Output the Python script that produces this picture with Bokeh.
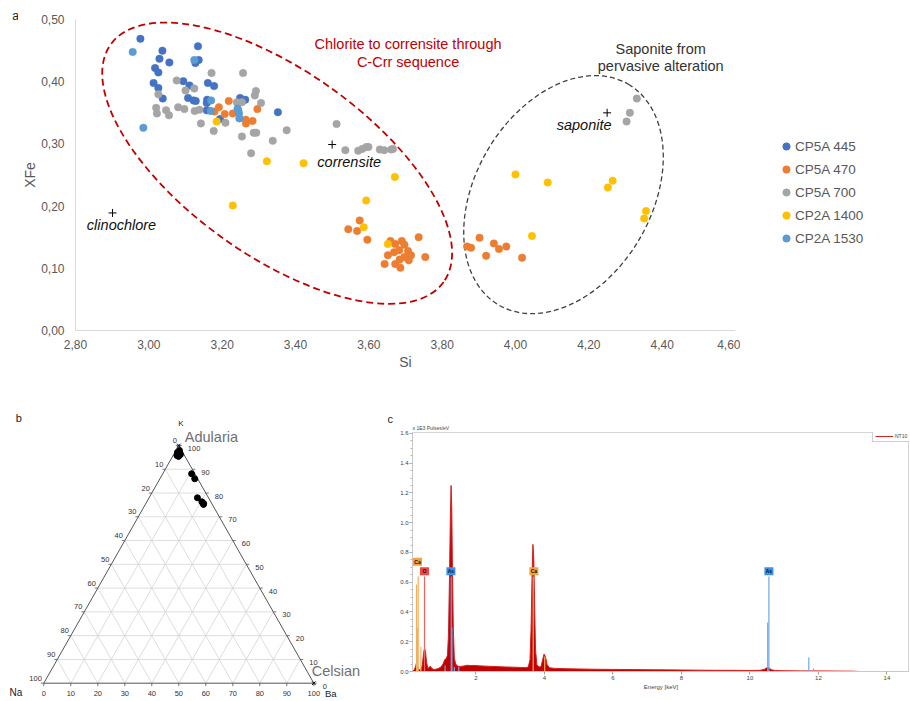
import math
from bokeh.plotting import figure
from bokeh.models import Range1d, FixedTicker, CustomJSTickFormatter, Legend, LegendItem
from bokeh.layouts import column, row
from bokeh.core.properties import value
from bokeh.embed import file_html
from bokeh.resources import INLINE

FONT = "Liberation Sans"

# ---------------- panel a data ----------------
si_ticks = [2.8, 3.0, 3.2, 3.4, 3.6, 3.8, 4.0, 4.2, 4.4, 4.6]
xfe_ticks = [0.0, 0.1, 0.2, 0.3, 0.4, 0.5]

series_names = ["CP5A 445", "CP5A 470", "CP5A 700", "CP2A 1400", "CP2A 1530"]
series_colors = ["#4472C4", "#ED7D31", "#A5A5A5", "#FFC000", "#5B9BD5"]

cp5a445_si = [2.977, 3.134, 3.037, 3.029, 3.056, 3.136, 3.127, 3.017, 3.026, 3.013, 3.094, 3.026, 3.111,
              3.161, 3.178, 3.038, 3.107, 3.122, 3.128, 3.159, 3.158, 3.249, 3.263, 3.158, 3.194, 3.352]
cp5a445_xfe = [0.469, 0.457, 0.450, 0.437, 0.431, 0.435, 0.430, 0.422, 0.415, 0.398, 0.401, 0.390, 0.394,
               0.398, 0.393, 0.373, 0.374, 0.370, 0.369, 0.371, 0.366, 0.374, 0.371, 0.354, 0.340, 0.351]

cp5a470_si = [3.218, 3.191, 3.179, 3.207, 3.229, 3.264, 3.265, 3.283, 3.296,
              3.544, 3.568, 3.575, 3.596, 3.659, 3.672, 3.690, 3.697, 3.652, 3.669, 3.683, 3.707,
              3.715, 3.697, 3.709, 3.684, 3.672, 3.643, 3.686, 3.736, 3.754,
              3.868, 3.879, 3.902, 3.920, 3.941, 3.955, 3.975, 4.018]
cp5a470_xfe = [0.369, 0.359, 0.352, 0.348, 0.349, 0.339, 0.333, 0.337, 0.356,
               0.163, 0.160, 0.177, 0.146, 0.144, 0.139, 0.144, 0.138, 0.121, 0.126, 0.129, 0.128,
               0.121, 0.118, 0.113, 0.114, 0.107, 0.107, 0.101, 0.150, 0.118,
               0.135, 0.133, 0.149, 0.120, 0.140, 0.131, 0.135, 0.117]

cp5a700_si = [3.171, 3.257, 3.076, 3.100, 3.124, 3.026, 3.020, 3.022, 3.047, 3.055, 3.080, 3.097, 3.125,
              3.138, 3.142, 3.177, 3.209, 3.240, 3.254, 3.254, 3.279, 3.289, 3.292, 3.306, 3.286, 3.293,
              3.338, 3.376, 3.512, 3.536, 3.571, 3.582, 3.593, 3.599, 3.630, 3.642, 3.661, 3.666,
              4.331, 4.312, 4.303]
cp5a700_xfe = [0.414, 0.414, 0.402, 0.386, 0.389, 0.380, 0.358, 0.349, 0.354, 0.346, 0.359, 0.356, 0.353,
               0.355, 0.333, 0.321, 0.334, 0.367, 0.367, 0.312, 0.285, 0.378, 0.385, 0.366, 0.318, 0.318,
               0.305, 0.322, 0.332, 0.290, 0.289, 0.292, 0.295, 0.295, 0.291, 0.290, 0.291, 0.292,
               0.373, 0.350, 0.336]

cp2a1400_si = [3.185, 3.322, 3.422, 3.229, 3.671, 3.593, 3.586, 3.652,
               4.000, 4.088, 4.252, 4.265, 4.356, 4.351, 4.045]
cp2a1400_xfe = [0.336, 0.272, 0.269, 0.201, 0.247, 0.209, 0.166, 0.139,
                0.251, 0.238, 0.230, 0.241, 0.192, 0.180, 0.152]

cp2a1530_si = [2.956, 2.985, 3.124, 3.170, 3.169, 3.242, 3.244, 3.246, 3.247]
cp2a1530_xfe = [0.448, 0.326, 0.435, 0.370, 0.353, 0.357, 0.354, 0.349, 0.341]

ref_names = ["clinochlore", "corrensite", "saponite"]
ref_si = [2.901, 3.500, 4.250]
ref_xfe = [0.189, 0.299, 0.350]


def bare(w, h, xr, yr):
    f = figure(width=w, height=h, x_range=xr, y_range=yr, title=None,
               min_border_left=0, min_border_right=0, min_border_top=0, min_border_bottom=0,
               frame_align=False, x_axis_location=None, y_axis_location=None,
               toolbar_location=None, output_backend="svg")
    f.grid.visible = False
    f.outline_line_color = None
    return f


# ---------------- panel letter strip for "a" ----------------
strip = bare(18, 380, Range1d(0, 18), Range1d(0, 380))
strip.text(x=[15], y=[364.3], text=["a"], text_font=value(FONT), text_font_size="12px",
           text_align="center", text_baseline="middle", text_color="#222222")

# ---------------- panel a ----------------
pa = figure(width=722, height=380, x_range=Range1d(2.8, 4.6001), y_range=Range1d(0, 0.5001), title=None,
            min_border_left=57, min_border_right=5, min_border_top=19, min_border_bottom=50,
            frame_align=False, toolbar_location=None, output_backend="svg")
pa.grid.visible = False
pa.outline_line_color = None
fmt = CustomJSTickFormatter(code="return tick.toFixed(2).replace('.', ',');")
for ax, ticks in ((pa.xaxis[0], si_ticks), (pa.yaxis[0], xfe_ticks)):
    ax.ticker = FixedTicker(ticks=ticks)
    ax.formatter = fmt
    ax.axis_line_color = "#d9d9d9"
    ax.major_tick_line_color = None
    ax.minor_tick_line_color = None
    ax.major_tick_out = 0
    ax.major_tick_in = 0
    ax.minor_tick_out = 0
    ax.minor_tick_in = 0
    ax.major_label_text_font = FONT
    ax.major_label_text_font_size = "12px"
    ax.major_label_text_color = "#595959"
    ax.axis_label_text_font = FONT
    ax.axis_label_text_font_size = "14px"
    ax.axis_label_text_font_style = "normal"
    ax.axis_label_text_color = "#595959"
pa.xaxis.axis_label = "Si"
pa.yaxis.axis_label = "XFe"
pa.xaxis.major_label_standoff = 9
pa.xaxis.axis_label_standoff = 2
pa.yaxis.major_label_standoff = 11
pa.yaxis.axis_label_standoff = 0

pa.ellipse(x=[3.350], y=[0.269], width=[409], height=[185], angle=[-35.5], angle_units="deg",
           width_units="screen", height_units="screen", fill_color=None,
           line_color="#C00000", line_width=1.8, line_dash="7 4")
pa.ellipse(x=[4.131], y=[0.2185], width=[256], height=[176], angle=[59.6], angle_units="deg",
           width_units="screen", height_units="screen", fill_color=None,
           line_color="#404040", line_width=1.3, line_dash="5 3")

all_si = [cp5a445_si, cp5a470_si, cp5a700_si, cp2a1400_si, cp2a1530_si]
all_xfe = [cp5a445_xfe, cp5a470_xfe, cp5a700_xfe, cp2a1400_xfe, cp2a1530_xfe]
for xs, ys, c in zip(all_si, all_xfe, series_colors):
    pa.scatter(xs, ys, size=7.5, fill_color=c, line_color=c, line_width=0.5)

pa.scatter(ref_si, ref_xfe, marker="cross", size=8, line_color="black", line_width=1)
ref_dx = [9, 17, -23]
ref_dy = [12, 17, 12]
for i in range(3):
    pa.text(x=[ref_si[i]], y=[ref_xfe[i]], text=[ref_names[i]], x_offset=ref_dx[i], y_offset=ref_dy[i],
            text_font=value(FONT), text_font_size="14.5px", text_font_style="italic",
            text_align="center", text_baseline="middle", text_color="#111111")

pa.text(x=[3.707, 3.707], y=[0.460, 0.431],
        text=["Chlorite to corrensite through", "C-Crr sequence"],
        text_font=value(FONT), text_font_size="14.5px", text_align="center",
        text_baseline="middle", text_color="#C00000")
pa.text(x=[4.396, 4.396], y=[0.452, 0.425],
        text=["Saponite from", "pervasive alteration"],
        text_font=value(FONT), text_font_size="14.5px", text_align="center",
        text_baseline="middle", text_color="#333333")

# ---------------- legend of panel a (own strip to the right) ----------------
# the legend's swatch renderers hold one point lying outside this strip's ranges
lf = bare(169, 380, Range1d(0, 1), Range1d(0, 1))
leg_items = []
for n, c in zip(series_names, series_colors):
    r = lf.scatter([-5], [-5], size=7.5, fill_color=c, line_color=c)
    leg_items.append(LegendItem(label=n, renderers=[r]))
legA = Legend(items=leg_items, location=(37, 132), label_text_font=FONT, label_text_font_size="13.5px",
              label_text_color="#595959", glyph_width=18, glyph_height=20, label_height=20,
              label_standoff=-2, spacing=3, padding=0, margin=0, border_line_color=None,
              background_fill_alpha=0)
lf.add_layout(legA)

# ---------------- panel b data (ternary K - Na - Ba, %) ----------------
tern_ticks = [0, 10, 20, 30, 40, 50, 60, 70, 80, 90, 100]
feld_k = [97.1, 97.9, 96.2, 95.8, 95.4, 96.8, 88.1, 86.0, 78.0, 76.3, 75.2, 75.6]
feld_na = [1.95, 0.8, 1.3, 2.8, 2.4, 1.2, 1.2, 1.1, 4.1, 3.3, 3.25, 3.0]
feld_ba = [0.95, 1.3, 2.5, 1.4, 2.2, 2.0, 10.7, 12.9, 17.9, 20.4, 21.55, 21.4]
end_names = ["Adularia", "Celsian"]
end_k = [100, 0]
end_na = [0, 0]
end_ba = [0, 100]

SQ = math.sqrt(3) / 2


def tern_xy(k, na, ba):
    s = k + na + ba
    return (ba + 0.5 * k) / s, SQ * k / s


pb = bare(394, 320, Range1d(-0.16037, 1.29889), Range1d(-0.06302, 1.10273))

gx0, gy0, gx1, gy1 = [], [], [], []
for v in tern_ticks[1:-1]:
    for a, b in (((v, 100 - v, 0), (v, 0, 100 - v)),
                 ((100 - v, v, 0), (0, v, 100 - v)),
                 ((100 - v, 0, v), (0, 100 - v, v))):
        x0, y0 = tern_xy(*a)
        x1, y1 = tern_xy(*b)
        gx0.append(x0); gy0.append(y0); gx1.append(x1); gy1.append(y1)
pb.segment(gx0, gy0, gx1, gy1, line_color="#d4d4d4", line_width=0.8)

corners = [(0, 100, 0), (0, 0, 100), (100, 0, 0), (0, 100, 0)]
cx = [tern_xy(*c)[0] for c in corners]
cy = [tern_xy(*c)[1] for c in corners]
pb.line(cx, cy, line_color="#555555", line_width=1)

tl = 3 / 270
lx, ly, rx, ry, bx, by = [], [], [], [], [], []
for v in tern_ticks:
    x, y = tern_xy(100 - v, v, 0); lx.append(x); ly.append(y)
    x, y = tern_xy(v, 0, 100 - v); rx.append(x); ry.append(y)
    x, y = tern_xy(0, 100 - v, v); bx.append(x); by.append(y)
pb.segment(lx, ly, [x - tl for x in lx], ly, line_color="#555555", line_width=0.8)
pb.segment(rx, ry, [x + tl for x in rx], ry, line_color="#555555", line_width=0.8)
pb.segment(bx, by, bx, [y - 3 / 274.5 for y in by], line_color="#555555", line_width=0.8)
labs = [str(v) for v in tern_ticks]
pb.text(lx, ly, text=labs, x_offset=-2, y_offset=-5, text_align="right", text_baseline="middle",
        text_font=value(FONT), text_font_size="7.5px", text_color="#333333")
pb.text(rx, ry, text=labs, x_offset=9, y_offset=3, text_align="left", text_baseline="middle",
        text_font=value(FONT), text_font_size="7.5px", text_color="#333333")
pb.text(bx, by, text=labs, x_offset=0, y_offset=10, text_align="center", text_baseline="middle",
        text_font=value(FONT), text_font_size="7.5px", text_color="#333333")

fx, fy = zip(*[tern_xy(k, n, b) for k, n, b in zip(feld_k, feld_na, feld_ba)])
pb.scatter(list(fx), list(fy), size=6, fill_color="black", line_color="black")
ex, ey = zip(*[tern_xy(k, n, b) for k, n, b in zip(end_k, end_na, end_ba)])
pb.scatter(list(ex), list(ey), marker="x", size=5, line_color="black", line_width=1)
pb.text([ex[0]], [ey[0]], text=[end_names[0]], x_offset=6, y_offset=-8, text_align="left",
        text_baseline="middle", text_font=value(FONT), text_font_size="14.5px", text_color="#707070")
pb.text([ex[1]], [ey[1]], text=[end_names[1]], x_offset=-2, y_offset=-12, text_align="left",
        text_baseline="middle", text_font=value(FONT), text_font_size="14.5px", text_color="#707070")

kx, ky = tern_xy(100, 0, 0)
nx, ny = tern_xy(0, 100, 0)
bbx, bby = tern_xy(0, 0, 100)
pb.text([kx], [ky], text=["K"], x_offset=2, y_offset=-22, text_align="center", text_baseline="middle",
        text_font=value(FONT), text_font_size="8px", text_color="#222222")
pb.text([nx], [ny], text=["Na"], x_offset=-28, y_offset=9, text_align="center", text_baseline="middle",
        text_font=value(FONT), text_font_size="10px", text_color="#222222")
pb.text([bbx], [bby], text=["Ba"], x_offset=17, y_offset=10, text_align="center", text_baseline="middle",
        text_font=value(FONT), text_font_size="9.5px", text_color="#222222")
pb.text([nx, nx], [ny, ny], text=["b", "c"], x_offset=[-25, 346.5], y_offset=[-265, -264],
        text_align="center", text_baseline="middle",
        text_font=value(FONT), text_font_size="11px", text_color="#222222")

# ---------------- panel c data (EDS spectrum) ----------------
energy_ticks = [2, 4, 6, 8, 10, 12, 14]
count_ticks = [0.0, 0.2, 0.4, 0.6, 0.8, 1.0, 1.2, 1.4, 1.6]
spectrum = [
    (0.15, 0.004), (0.20, 0.010), (0.24, 0.035), (0.27, 0.060), (0.30, 0.030), (0.34, 0.010),
    (0.40, 0.015), (0.44, 0.050), (0.47, 0.120), (0.50, 0.157), (0.53, 0.130), (0.56, 0.060),
    (0.60, 0.020), (0.64, 0.030), (0.67, 0.036), (0.71, 0.022), (0.76, 0.014), (0.82, 0.015),
    (0.90, 0.020), (0.98, 0.030), (1.04, 0.050), (1.09, 0.080), (1.13, 0.085), (1.17, 0.110),
    (1.20, 0.250), (1.23, 0.650), (1.255, 1.050), (1.275, 1.250), (1.295, 1.100), (1.315, 0.700),
    (1.34, 0.300), (1.37, 0.090), (1.41, 0.050), (1.47, 0.036), (1.55, 0.034), (1.65, 0.037),
    (1.75, 0.042), (1.85, 0.040), (1.95, 0.041), (2.10, 0.038), (2.30, 0.036), (2.50, 0.034),
    (2.70, 0.032), (2.90, 0.030), (3.10, 0.029), (3.30, 0.027), (3.45, 0.026), (3.53, 0.030),
    (3.58, 0.080), (3.61, 0.280), (3.64, 0.650), (3.665, 0.854), (3.69, 0.760), (3.715, 0.450),
    (3.74, 0.150), (3.78, 0.045), (3.84, 0.030), (3.90, 0.032), (3.95, 0.080), (3.99, 0.117),
    (4.03, 0.100), (4.08, 0.045), (4.15, 0.025), (4.30, 0.021), (4.60, 0.019), (5.00, 0.017),
    (5.50, 0.015), (6.00, 0.014), (6.50, 0.013), (7.00, 0.012), (7.50, 0.011), (8.00, 0.010),
    (8.50, 0.009), (9.00, 0.008), (9.50, 0.008), (10.00, 0.007), (10.30, 0.008), (10.42, 0.014),
    (10.48, 0.024), (10.52, 0.027), (10.57, 0.022), (10.63, 0.012), (10.75, 0.006), (11.00, 0.005),
    (11.50, 0.004), (12.00, 0.004), (12.50, 0.003), (13.00, 0.002), (13.20, 0.000), (14.66, 0.000),
]
ca_line_e = [0.267, 0.296, 0.315, 0.393, 3.673, 4.01]
ca_line_h = [0.584, 0.29, 0.638, 0.166, 0.638, 0.10]
o_line_e = [0.50]
o_line_h = [0.638]
as_line_e = [1.10, 1.279, 1.30, 1.37, 1.50, 10.52, 10.555, 11.72, 11.86]
as_line_h = [0.04, 0.638, 0.297, 0.03, 0.03, 0.33, 0.638, 0.094, 0.02]
tag_names = ["Ca", "O", "As", "Ca", "As"]
tag_e = [0.295, 0.499, 1.27, 3.693, 10.555]
tag_y = [0.737, 0.674, 0.674, 0.674, 0.674]
tag_colors = ["#F5A040", "#EE4646", "#3A92EE", "#F5A040", "#3A92EE"]

pc = figure(width=515, height=320, x_range=Range1d(0.149, 14.66), y_range=Range1d(0, 1.6065),
            min_border_left=18, min_border_right=0, min_border_top=52, min_border_bottom=29,
            frame_align=False, toolbar_location=None, output_backend="svg")
pc.grid.visible = False
pc.outline_line_color = "#d4d4d4"
pc.title.text = "x 1E3 Pulses/eV"
pc.title.align = "left"
pc.title.text_font = FONT
pc.title.text_font_size = "5px"
pc.title.text_font_style = "normal"
pc.title.text_color = "#444444"
pc.title.standoff = 3
pc.xaxis.ticker = FixedTicker(ticks=energy_ticks)
pc.yaxis.ticker = FixedTicker(ticks=count_ticks, minor_ticks=[i * 0.05 for i in range(33)])
pc.yaxis.formatter = CustomJSTickFormatter(code="return tick.toFixed(1);")
for ax in (pc.xaxis[0], pc.yaxis[0]):
    ax.axis_line_color = "#c8c8c8"
    ax.major_tick_line_color = "#a0a0a0"
    ax.minor_tick_line_color = "#b8b8b8"
    ax.major_tick_in = 0
    ax.major_tick_out = 3
    ax.minor_tick_in = 0
    ax.minor_tick_out = 2
    ax.major_label_text_font = FONT
    ax.major_label_text_font_size = "6px"
    ax.major_label_text_color = "#444444"
    ax.major_label_standoff = 1
pc.xaxis.minor_tick_line_color = None
pc.xaxis.axis_label = "Energy [keV]"
pc.xaxis.axis_label_text_font = FONT
pc.xaxis.axis_label_text_font_size = "6px"
pc.xaxis.axis_label_text_font_style = "normal"
pc.xaxis.axis_label_text_color = "#444444"
pc.xaxis.axis_label_standoff = 1

se = [p[0] for p in spectrum]
sc = [p[1] for p in spectrum]
pc.varea(x=se, y1=[0] * len(se), y2=sc, fill_color="#C00000")
spec_line = pc.line(se, sc, line_color="#D42020", line_width=1)
pc.segment(ca_line_e, [0] * len(ca_line_e), ca_line_e, ca_line_h, line_color="#F2AE60", line_width=1.2)
pc.segment(o_line_e, [0] * len(o_line_e), o_line_e, o_line_h, line_color="#F26060", line_width=1.2)
pc.segment(as_line_e, [0] * len(as_line_e), as_line_e, as_line_h, line_color="#6FA8E8", line_width=1.2)
pc.rect(tag_e, tag_y, width=9, height=8, width_units="screen", height_units="screen",
        fill_color=tag_colors, line_color=None)
pc.text(tag_e, tag_y, text=tag_names, text_align="center", text_baseline="middle",
        text_font=value(FONT), text_font_size="5px", text_font_style="bold", text_color="#111111")

legC = Legend(items=[LegendItem(label="NT10", renderers=[spec_line])], location=(460, 229),
              label_text_font=FONT, label_text_font_size="5px", label_text_color="#444444",
              glyph_width=18, glyph_height=6, label_height=6, label_standoff=2, padding=2, margin=0,
              border_line_color="#a0a0a0", background_fill_color="white")
pc.add_layout(legC)

layout = column(row(strip, pa, lf), row(pb, pc))
open("out.html", "w").write(file_html(layout, INLINE))
